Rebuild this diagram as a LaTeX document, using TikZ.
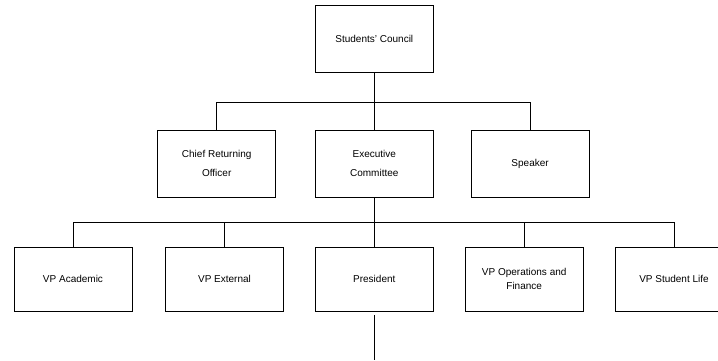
\documentclass[tikz,border=0pt]{standalone}
\usepackage{fontspec}
\setmainfont{Liberation Sans}

\tikzset{
  post/.style={draw, line width=0.8pt, inner sep=0pt, minimum width=118pt,
    minimum height=67pt, align=center, font=\fontsize{10}{14}\selectfont},
  lowpost/.style={post, minimum height=64pt},
  link/.style={line width=0.8pt}
}

\begin{document}
\begin{tikzpicture}[x=1pt, y=-1pt]
    \useasboundingbox (0,0) rectangle (718,360);

    % top
    \node[post] (council) at (374.3,39.2) {Students' Council};

    % second row
    \node[post] (cro) at (216.7,163.8) {Chief Returning\\[5pt]Officer};
    \node[post] (exec) at (374.3,163.8) {Executive\\[5pt]Committee};
    \node[post] (speaker) at (530.1,163.8) {Speaker};
    \coordinate (bus1) at (374.3,102.5);

    \draw[link] (council) -- (exec);
    \draw[link] (cro.north) |- (bus1) -| (speaker.north);

    % third row
    \node[lowpost] (academic) at (73,279) {VP Academic};
    \node[lowpost] (external) at (224.5,279) {VP External};
    \node[lowpost] (president) at (374.3,279) {President};
    \node[lowpost] (ops) at (524.2,279) {VP Operations and\\Finance};
    \node[lowpost] (life) at (674,279) {VP Student Life};
    \coordinate (bus2) at (374.3,222.5);

    \draw[link] (exec) -- (president);
    \draw[link] (academic.north) |- (bus2) -| (life.north);
    \draw[link] (external.north) |- (bus2);
    \draw[link] (ops.north) |- (bus2);

    % below president
    \coordinate (tail) at (374.3,360);
    \draw[link] ([yshift=-4pt]president.south) -- (tail);
\end{tikzpicture}
\end{document}
